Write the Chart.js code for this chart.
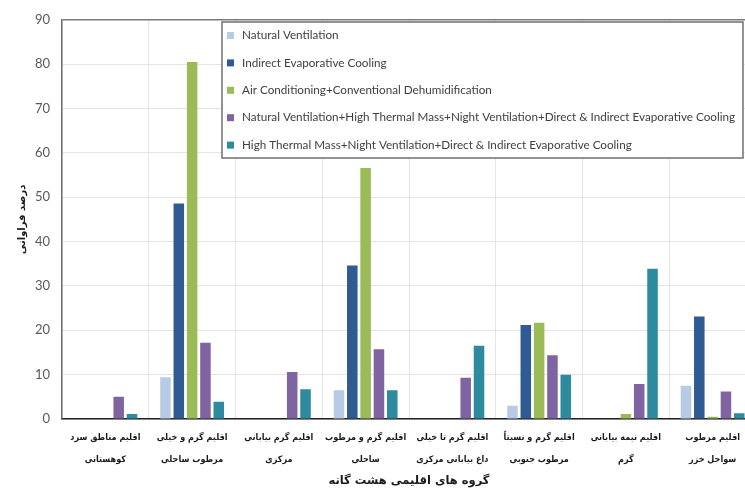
<!DOCTYPE html>
<html>
<head>
<meta charset="utf-8">
<script src="https://cdn.jsdelivr.net/npm/chart.js@4"></script>
<style>
  html, body { margin: 0; padding: 0; background: #fff; overflow: hidden; }
  #wrap { width: 745px; height: 493px; overflow: hidden; }
  canvas { display: block; }
</style>
</head>
<body>
<div id="wrap"><canvas id="chart" width="756" height="493"></canvas></div>
<script>
const regions = [
  ["اقلیم مناطق سرد", "کوهستانی"],
  ["اقلیم گرم و خیلی", "مرطوب ساحلی"],
  ["اقلیم گرم بیابانی", "مرکزی"],
  ["اقلیم گرم و مرطوب", "ساحلی"],
  ["اقلیم گرم تا خیلی", "داغ بیابانی مرکزی"],
  ["اقلیم گرم و نسبتاً", "مرطوب جنوبی"],
  ["اقلیم نیمه بیابانی", "گرم"],
  ["اقلیم مرطوب", "سواحل خزر"],
];

const seriesNames = [
  "Natural Ventilation",
  "Indirect Evaporative Cooling",
  "Air Conditioning+Conventional Dehumidification",
  "Natural Ventilation+High Thermal Mass+Night Ventilation+Direct & Indirect Evaporative Cooling",
  "High Thermal Mass+Night Ventilation+Direct & Indirect Evaporative Cooling",
];

const naturalVent   = [0, 9.4, 0, 6.5, 0, 3.0, 0, 7.5];
const indirectEvap  = [0, 48.6, 0, 34.6, 0, 21.2, 0, 23.1];
const airCond       = [0, 80.5, 0, 56.6, 0, 21.7, 1.1, 0.5];
const nvThermalMass = [5.0, 17.2, 10.6, 15.7, 9.3, 14.4, 7.9, 6.2];
const thermalMass   = [1.1, 3.9, 6.7, 6.5, 16.5, 10.0, 33.9, 1.3];

const yTicks = [0, 10, 20, 30, 40, 50, 60, 70, 80, 90];

const colors = ["#b7cbe6", "#2f5a92", "#9bbb59", "#8064a2", "#2e8a9f"];
const seriesValues = [naturalVent, indirectEvap, airCond, nvThermalMass, thermalMass];

// legend drawn as a framed box inside the plot, like the original
const boxLegend = {
  id: "boxLegend",
  afterDraw(chart) {
    const ctx = chart.ctx;
    const x0 = 222, y0 = 22, w = 521, h = 136;
    ctx.save();
    ctx.fillStyle = "#fff";
    ctx.fillRect(x0, y0, w, h);
    ctx.strokeStyle = "#6f6f6f";
    ctx.lineWidth = 1.5;
    ctx.strokeRect(x0, y0, w, h);
    ctx.font = "11.7px Lato";
    ctx.textBaseline = "middle";
    chart.data.datasets.forEach((ds, i) => {
      const cy = 35.5 + i * 27.4;
      ctx.fillStyle = ds.backgroundColor;
      ctx.fillRect(x0 + 5, cy - 3.5, 7, 7);
      ctx.fillStyle = "#404040";
      ctx.fillText(ds.label, x0 + 20, cy);
    });
    ctx.restore();
  },
};

new Chart(document.getElementById("chart"), {
  type: "bar",
  data: {
    labels: regions,
    datasets: seriesNames.map((name, i) => ({
      label: name,
      data: seriesValues[i],
      backgroundColor: colors[i],
      categoryPercentage: 0.768,
      barPercentage: 0.79,
    })),
  },
  options: {
    responsive: false,
    animation: false,
    layout: { padding: { top: 15, right: 0, left: 0, bottom: 0 } },
    plugins: { legend: { display: false }, tooltip: { enabled: false } },
    scales: {
      x: {
        grid: { color: "#e4e4e4", drawTicks: false },
        border: { color: "#222", width: 1.5 },
        ticks: {
          padding: 8,
          maxRotation: 0,
          autoSkip: false,
          color: "#1a1a1a",
          font: { family: "DejaVu Sans Condensed", size: 9, weight: "bold", lineHeight: 2.4 },
        },
        title: {
          display: true,
          text: "گروه های اقلیمی هشت گانه",
          color: "#1a1a1a",
          font: { family: "DejaVu Sans", size: 11.5, weight: "bold" },
          padding: { top: 0, bottom: 5 },
        },
        afterFit(scale) { scale.height = 74; },
      },
      y: {
        min: 0,
        max: 90,
        afterBuildTicks(scale) { scale.ticks = yTicks.map((v) => ({ value: v })); },
        grid: {
          drawTicks: false,
          color: (c) => (c.tick && c.tick.value === 90 ? "#7a7a7a" : "#e4e4e4"),
          lineWidth: (c) => (c.tick && c.tick.value === 90 ? 1.5 : 1),
        },
        border: { color: "#6f6f6f", width: 1.5 },
        ticks: {
          padding: 12,
          color: "#595959",
          font: { family: "Lato", size: 13 },
        },
        title: {
          display: true,
          text: "درصد فراوانی",
          color: "#1a1a1a",
          font: { family: "DejaVu Sans", size: 10, weight: "bold" },
          padding: { top: 16, bottom: 0 },
        },
        afterFit(scale) { scale.width = 62; },
      },
    },
  },
  plugins: [boxLegend],
});
</script>
</body>
</html>
